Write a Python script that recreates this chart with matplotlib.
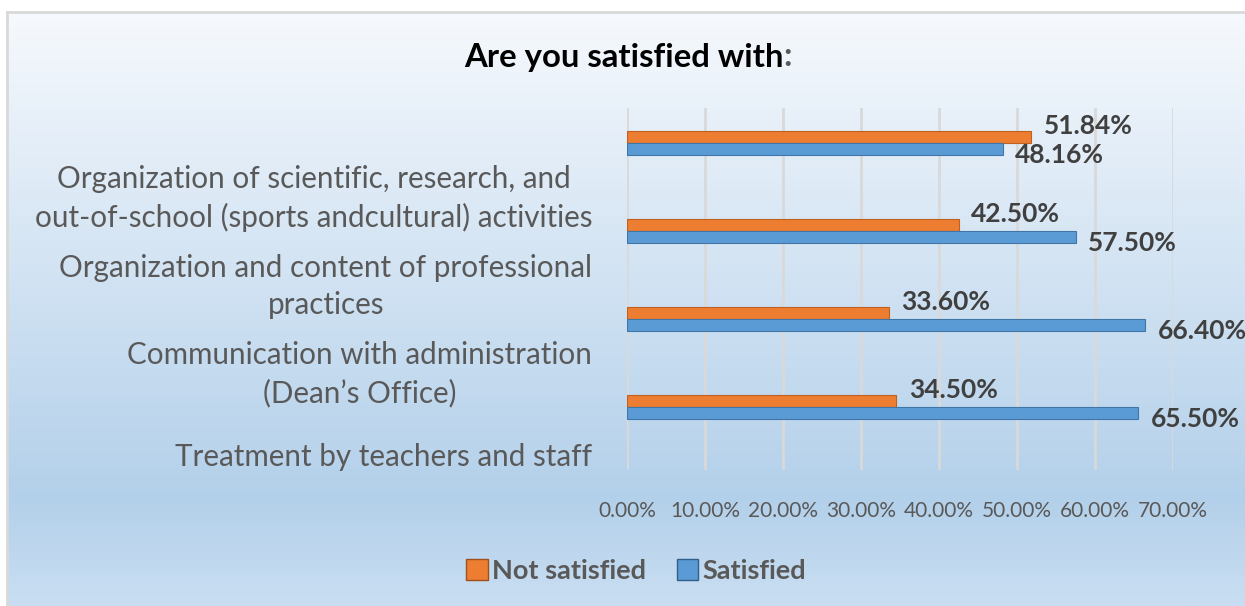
#!/usr/bin/env python3
"""Satisfaction survey: horizontal bar chart, Excel-style look."""

import matplotlib
matplotlib.use("Agg")
import matplotlib.pyplot as plt
import matplotlib.transforms as mtransforms
import numpy as np
from matplotlib.colors import LinearSegmentedColormap
from matplotlib.patches import Patch

# categories listed top to bottom as they appear
categories = [
    "Organization of scientific, research, and\nout-of-school (sports andcultural) activities",
    "Organization and content of professional\npractices",
    "Communication with administration\n(Dean\u2019s Office)",
    "Treatment by teachers and staff",
]
not_satisfied = [51.84, 42.50, 33.60, 34.50]
satisfied = [48.16, 57.50, 66.40, 65.50]
x_ticks = [0, 10, 20, 30, 40, 50, 60, 70]
series_names = ["Not satisfied", "Satisfied"]

ORANGE = "#ED7D31"
BLUE = "#5B9BD5"
TEXT = "#595959"
LABEL = "#404040"

plt.rcParams["font.family"] = ["Lato", "DejaVu Sans"]

W, H, DPI = 1245, 606, 100
fig = plt.figure(figsize=(W / DPI, H / DPI), dpi=DPI)
fig.patch.set_facecolor("white")


def px(x0, y0, x1, y1):
    # pixel box (from top-left) -> figure fraction rect
    return [x0 / W, 1 - y1 / H, (x1 - x0) / W, (y1 - y0) / H]


# chart area background gradient + frame
bg = fig.add_axes(px(7, 12, W, H), zorder=0)
grad_cmap = LinearSegmentedColormap.from_list(
    "bg", [(0.0, "#f6f9fd"), (0.82, "#b3d0ea"), (1.0, "#c9def2")])
bg.imshow(np.linspace(0, 1, 256).reshape(-1, 1), aspect="auto", cmap=grad_cmap,
          extent=[0, 1, 0, 1], origin="upper")
bg.set_xlim(0, 1)
bg.set_ylim(0, 1)
bg.set_xticks([])
bg.set_yticks([])
for side in ("right", "bottom"):
    bg.spines[side].set_visible(False)
for side in ("left", "top"):
    bg.spines[side].set_color("#d9d9d9")
    bg.spines[side].set_linewidth(2)

ax = fig.add_axes(px(627, 108, 1173, 470), zorder=2)
ax.patch.set_alpha(0)

n = len(categories)
ypos = np.arange(n)[::-1].astype(float)
bar_h = 0.136

ax.barh(ypos + bar_h / 2, not_satisfied, height=bar_h, color=ORANGE,
        edgecolor="#c0601f", linewidth=0.8, zorder=3)
ax.barh(ypos - bar_h / 2, satisfied, height=bar_h, color=BLUE,
        edgecolor="#3f76a8", linewidth=0.8, zorder=3)

for y, v in zip(ypos, not_satisfied):
    ax.annotate(f"{v:.2f}%", (v, y + bar_h / 2), xytext=(9, 8),
                textcoords="offset points", ha="left", va="center",
                fontsize=19, fontweight="bold", color=LABEL, zorder=4)
for y, v in zip(ypos, satisfied):
    ax.annotate(f"{v:.2f}%", (v, y - bar_h / 2), xytext=(9, -4),
                textcoords="offset points", ha="left", va="center",
                fontsize=19, fontweight="bold", color=LABEL, zorder=4)

ax.set_xlim(0, 70)
ax.set_ylim(-0.716, 3.398)
ax.set_xticks(x_ticks)
ax.set_xticklabels([f"{t:.2f}%" for t in x_ticks], fontsize=15, color=TEXT)
ax.tick_params(axis="x", length=0, pad=22)
ax.grid(axis="x", color="#d9d9d9", linewidth=2, zorder=1)
ax.set_axisbelow(True)

ax.set_yticks(ypos)
ax.set_yticklabels(categories, fontsize=21.3, color=TEXT,
                   multialignment="center", linespacing=1.42)
ax.tick_params(axis="y", length=0, pad=25)
shift = mtransforms.ScaledTranslation(0, -48 / DPI, fig.dpi_scale_trans)
for lab in ax.get_yticklabels():
    lab.set_transform(lab.get_transform() + shift)

for s in ax.spines.values():
    s.set_visible(False)

title = fig.text(624 / W, 1 - 57 / H, "Are you satisfied with", ha="center",
                 va="center", fontsize=23.7, fontweight="bold", color="black")
fig.canvas.draw()
bb = title.get_window_extent()
fig.text(bb.x1 / W, bb.y0 / H, ":", ha="left", va="bottom", fontsize=23.7,
         fontweight="bold", color=TEXT)

handles = [Patch(facecolor=ORANGE, edgecolor="#a0501a"),
           Patch(facecolor=BLUE, edgecolor="#2f5f8a")]
leg = fig.legend(handles, series_names, loc="center", ncol=2,
                 bbox_to_anchor=(636 / W, 1 - 571 / H), frameon=False,
                 handlelength=0.8, handleheight=0.8, handletextpad=0.15,
                 columnspacing=1.15, prop={"size": 19.5, "weight": "bold"})
for t in leg.get_texts():
    t.set_color(TEXT)

fig.savefig("out.png", dpi=DPI)
